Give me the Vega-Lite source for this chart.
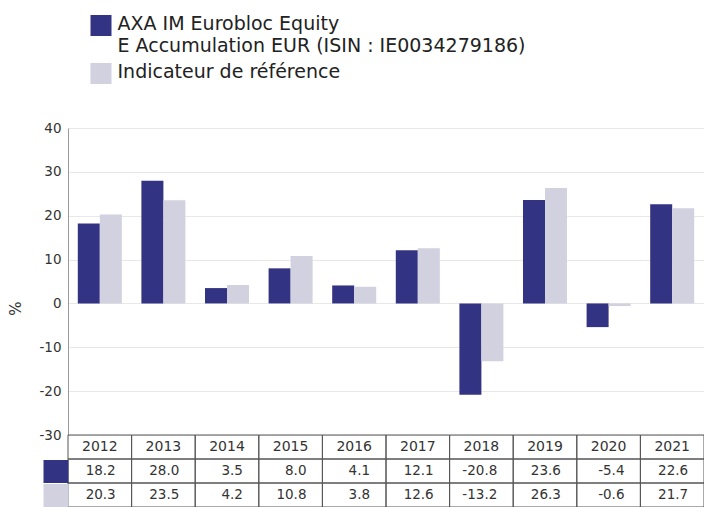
{
  "$schema": "https://vega.github.io/schema/vega-lite/v6.json",
  "padding": {"left": 8, "top": 15, "right": 0, "bottom": 0},
  "autosize": {"type": "pad"},
  "spacing": 0,
  "bounds": "flush",
  "config": {
    "view": {"stroke": null},
    "font": "DejaVu Sans",
    "locale": {"number": {"decimal": ".", "thousands": ",", "grouping": [3], "currency": ["", ""], "minus": "-"}}
  },
  "datasets": {
    "returns": [
      {"year": 2012, "series": "AXA IM Eurobloc Equity E Accumulation EUR (ISIN : IE0034279186)", "value": 18.2},
      {"year": 2012, "series": "Indicateur de référence", "value": 20.3},
      {"year": 2013, "series": "AXA IM Eurobloc Equity E Accumulation EUR (ISIN : IE0034279186)", "value": 28.0},
      {"year": 2013, "series": "Indicateur de référence", "value": 23.5},
      {"year": 2014, "series": "AXA IM Eurobloc Equity E Accumulation EUR (ISIN : IE0034279186)", "value": 3.5},
      {"year": 2014, "series": "Indicateur de référence", "value": 4.2},
      {"year": 2015, "series": "AXA IM Eurobloc Equity E Accumulation EUR (ISIN : IE0034279186)", "value": 8.0},
      {"year": 2015, "series": "Indicateur de référence", "value": 10.8},
      {"year": 2016, "series": "AXA IM Eurobloc Equity E Accumulation EUR (ISIN : IE0034279186)", "value": 4.1},
      {"year": 2016, "series": "Indicateur de référence", "value": 3.8},
      {"year": 2017, "series": "AXA IM Eurobloc Equity E Accumulation EUR (ISIN : IE0034279186)", "value": 12.1},
      {"year": 2017, "series": "Indicateur de référence", "value": 12.6},
      {"year": 2018, "series": "AXA IM Eurobloc Equity E Accumulation EUR (ISIN : IE0034279186)", "value": -20.8},
      {"year": 2018, "series": "Indicateur de référence", "value": -13.2},
      {"year": 2019, "series": "AXA IM Eurobloc Equity E Accumulation EUR (ISIN : IE0034279186)", "value": 23.6},
      {"year": 2019, "series": "Indicateur de référence", "value": 26.3},
      {"year": 2020, "series": "AXA IM Eurobloc Equity E Accumulation EUR (ISIN : IE0034279186)", "value": -5.4},
      {"year": 2020, "series": "Indicateur de référence", "value": -0.6},
      {"year": 2021, "series": "AXA IM Eurobloc Equity E Accumulation EUR (ISIN : IE0034279186)", "value": 22.6},
      {"year": 2021, "series": "Indicateur de référence", "value": 21.7}
    ]
  },
  "vconcat": [
    {
      "width": 636,
      "height": 307,
      "data": {"name": "returns"},
      "mark": {"type": "bar"},
      "encoding": {
        "x": {"field": "year", "type": "ordinal", "scale": {"paddingInner": 0, "paddingOuter": 0}, "axis": null},
        "xOffset": {"field": "series", "type": "nominal", "scale": {"domain": ["AXA IM Eurobloc Equity E Accumulation EUR (ISIN : IE0034279186)", "Indicateur de référence"], "paddingOuter": 0.445, "paddingInner": 0}},
        "y": {
          "field": "value", "type": "quantitative",
          "scale": {"domain": [-30, 40], "nice": false, "zero": false},
          "axis": {
            "title": "%", "titleFontSize": 15, "titleFontWeight": "normal", "titleColor": "#333333",
            "titleAngle": -90, "titleX": -44.5, "titleY": 180,
            "values": [-30, -20, -10, 0, 10, 20, 30, 40],
            "grid": true, "gridColor": "#e8e8e8", "domainColor": "#9a9a9a",
            "ticks": false, "labelPadding": 7, "labelFontSize": 13.5, "labelColor": "#333333"
          }
        },
        "color": {
          "field": "series", "type": "nominal",
          "scale": {"domain": ["AXA IM Eurobloc Equity E Accumulation EUR (ISIN : IE0034279186)", "Indicateur de référence"], "range": ["#333383", "#d1d1e0"]},
          "legend": {
            "title": null, "orient": "none", "legendX": 22.5, "legendY": -113,
            "symbolType": "square", "symbolSize": 441, "symbolStrokeWidth": 0, "symbolOpacity": 1,
            "labelFontSize": 19, "labelColor": "#222222", "labelOffset": 6, "labelLimit": 0,
            "labelBaseline": "top", "rowPadding": 7, "padding": 0,
            "labelExpr": "indexof(datum.label, 'AXA') === 0 ? ['AXA IM Eurobloc Equity', 'E Accumulation EUR (ISIN : IE0034279186)'] : datum.label",
            "encode": {"labels": {"update": {"dy": {"value": -10.5}, "lineHeight": {"value": 22}}}}
          }
        }
      }
    },
    {
      "width": 636,
      "height": 72,
      "data": {"name": "returns"},
      "layer": [
        {
          "mark": {"type": "rect", "filled": false, "stroke": "#555555", "strokeWidth": 1},
          "encoding": {
            "x": {"field": "year", "type": "ordinal", "scale": {"paddingInner": 0, "paddingOuter": 0}, "axis": null},
            "y": {
              "field": "series", "type": "nominal",
              "scale": {"domain": ["h", "AXA IM Eurobloc Equity E Accumulation EUR (ISIN : IE0034279186)", "Indicateur de référence"], "paddingInner": 0, "paddingOuter": 0},
              "axis": {
                "title": null, "labels": false, "domain": false, "grid": false,
                "ticks": true, "tickSize": 25, "tickWidth": 23,
                "tickColor": {"condition": [{"test": "datum.value === 'h'", "value": "transparent"}, {"test": "datum.value === 'Indicateur de référence'", "value": "#d1d1e0"}], "value": "#333383"}
              }
            }
          }
        },
        {
          "transform": [{"filter": "datum.series === 'Indicateur de référence'"}],
          "mark": {"type": "rect", "filled": false, "stroke": "#555555", "strokeWidth": 1},
          "encoding": {
            "x": {"field": "year", "type": "ordinal"},
            "y": {"datum": "h", "type": "nominal"}
          }
        },
        {
          "transform": [{"filter": "datum.series === 'Indicateur de référence'"}],
          "mark": {"type": "text", "align": "center", "fontSize": 14, "color": "#333333"},
          "encoding": {
            "x": {"field": "year", "type": "ordinal"},
            "y": {"datum": "h", "type": "nominal"},
            "text": {"field": "year", "type": "ordinal"}
          }
        },
        {
          "mark": {"type": "text", "align": "right", "fontSize": 13.5, "color": "#333333"},
          "encoding": {
            "x": {"field": "year", "type": "ordinal", "bandPosition": 0.75},
            "y": {"field": "series", "type": "nominal"},
            "text": {"field": "value", "type": "quantitative", "format": ".1f"}
          }
        }
      ]
    }
  ]
}
